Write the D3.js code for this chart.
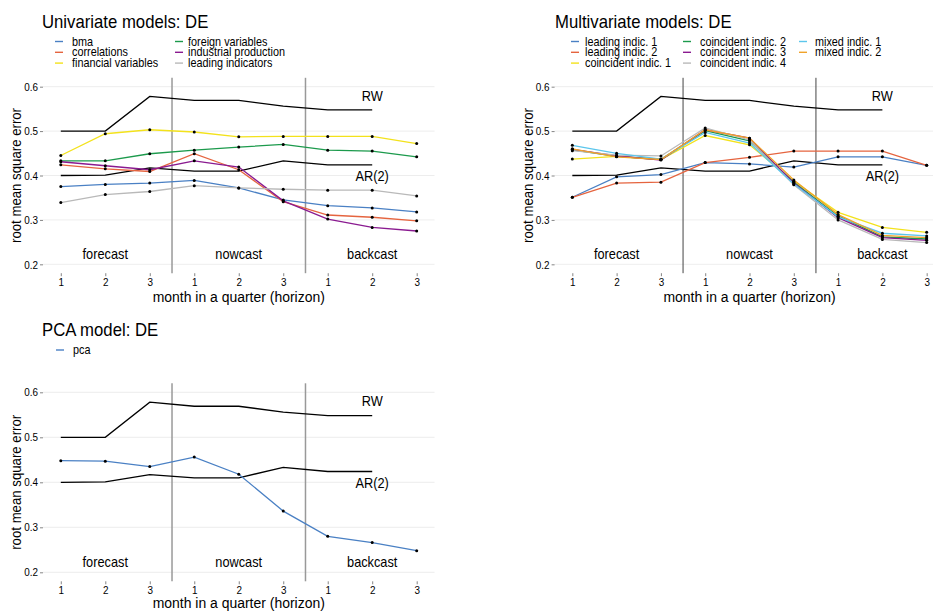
<!DOCTYPE html>
<html>
<head>
<meta charset="utf-8">
<script src="https://cdn.jsdelivr.net/npm/d3@7"></script>
<style>
  html, body { margin: 0; padding: 0; background: #fff; }
  svg { display: block; }
  text { font-family: "Liberation Sans", Arial, sans-serif; fill: #000; }
</style>
</head>
<body>
<svg id="chart" width="933" height="612"></svg>
<script>
// ---- data -------------------------------------------------------------
const horizon = [1, 2, 3, 4, 5, 6, 7, 8, 9];
const tickLabels = ["1", "2", "3", "1", "2", "3", "1", "2", "3"];
const yTicks = [0.2, 0.3, 0.4, 0.5, 0.6];
const phaseNames = ["forecast", "nowcast", "backcast"];
const phaseCenters = [2, 5, 8];
const phaseBreaks = [3.5, 6.5];

// benchmark models (defined for horizons 1..8)
const rw  = [0.500, 0.500, 0.578, 0.569, 0.569, 0.556, 0.548, 0.548];
const ar2 = [0.400, 0.401, 0.417, 0.410, 0.410, 0.433, 0.424, 0.424];

// univariate models
const uniNames = ["bma", "correlations", "financial variables", "foreign variables", "industrial production", "leading indicators"];
const bma         = [0.375, 0.380, 0.383, 0.389, 0.372, 0.345, 0.332, 0.327, 0.318];
const correlations = [0.424, 0.415, 0.409, 0.449, 0.413, 0.341, 0.311, 0.306, 0.298];
const financial   = [0.445, 0.494, 0.503, 0.498, 0.487, 0.488, 0.488, 0.488, 0.472];
const foreign     = [0.433, 0.433, 0.449, 0.457, 0.464, 0.470, 0.457, 0.455, 0.442];
const industrial  = [0.431, 0.422, 0.413, 0.433, 0.419, 0.343, 0.302, 0.283, 0.275];
const leadingInd  = [0.339, 0.357, 0.364, 0.377, 0.372, 0.369, 0.367, 0.367, 0.354];
const uniColors = ["#4a80c4", "#e5643f", "#f3e21c", "#1c9a4c", "#8a1a90", "#b9b9b9"];

// multivariate models
const multiNames = ["leading indic. 1", "leading indic. 2", "coincident indic. 1", "coincident indic. 2",
                    "coincident indic. 3", "coincident indic. 4", "mixed indic. 1", "mixed indic. 2"];
const leading1 = [0.351, 0.397, 0.402, 0.429, 0.426, 0.419, 0.442, 0.442, 0.423];
const leading2 = [0.351, 0.383, 0.385, 0.429, 0.441, 0.455, 0.455, 0.455, 0.423];
const coinc1   = [0.437, 0.443, 0.436, 0.490, 0.469, 0.387, 0.317, 0.283, 0.272];
const coinc2   = [0.458, 0.443, 0.436, 0.501, 0.478, 0.385, 0.309, 0.262, 0.257];
const coinc3   = [0.459, 0.444, 0.435, 0.503, 0.484, 0.383, 0.305, 0.260, 0.254];
const coinc4   = [0.456, 0.446, 0.444, 0.507, 0.480, 0.379, 0.300, 0.256, 0.249];
const mixed1   = [0.468, 0.450, 0.437, 0.497, 0.473, 0.381, 0.307, 0.270, 0.264];
const mixed2   = [0.460, 0.442, 0.436, 0.503, 0.484, 0.390, 0.312, 0.265, 0.260];
const multiColors = ["#4a80c4", "#e5643f", "#f3e21c", "#1c9a4c", "#8a1a90", "#b9b9b9", "#5bc6ec", "#f0a22a"];

// principal components model
const pcaNames = ["pca"];
const pca = [0.448, 0.447, 0.435, 0.456, 0.418, 0.336, 0.280, 0.266, 0.248];
const pcaColors = ["#4a80c4"];

// ---- drawing ----------------------------------------------------------
const svg = d3.select("#chart");

// narrow the glyph run of a label by factor k
function squeeze(sel, k) {
  sel.each(function () {
    const len = this.getComputedTextLength();
    if (len > 0) {
      d3.select(this).attr("textLength", len * k).attr("lengthAdjust", "spacingAndGlyphs");
    }
  });
  return sel;
}

function label(g, x, y, str, size, anchor, k) {
  const t = g.append("text").attr("x", x).attr("y", y)
    .attr("font-size", size).attr("text-anchor", anchor || "start").text(str);
  squeeze(t, k || 0.86);
  return t;
}

function drawPlot(opt) {
  const g = svg.append("g");
  const x = d3.scaleLinear().domain([0.6, 9.4]).range([opt.left, opt.right]);
  const y = d3.scaleLinear().domain([0.18, 0.62]).range([opt.bottom, opt.top]);

  // title and legend
  label(g, opt.titleX, opt.titleY, opt.title, 19, "start", 0.88);
  opt.names.forEach((name, i) => {
    const col = Math.floor(i / 3), row = i % 3;
    const ly = opt.legendY + row * 10.8;
    g.append("line")
      .attr("x1", opt.keyX[col]).attr("x2", opt.keyX[col] + 8)
      .attr("y1", ly).attr("y2", ly)
      .attr("stroke", opt.colors[i]).attr("stroke-width", 1.4);
    label(g, opt.textX[col], ly + 4, name, 12.6, "start", 0.86);
  });

  // horizontal grid
  g.append("g").selectAll("line").data(yTicks).join("line")
    .attr("x1", opt.left).attr("x2", opt.right)
    .attr("y1", d => y(d)).attr("y2", d => y(d))
    .attr("stroke", "#ebebeb").attr("stroke-width", 0.9);

  // axes
  const yAxis = g.append("g").attr("transform", `translate(${opt.left},0)`)
    .call(d3.axisLeft(y).tickValues(yTicks).tickFormat(d3.format(".1f")).tickSize(3).tickPadding(2));
  const xAxis = g.append("g").attr("transform", `translate(0,${opt.bottom})`)
    .call(d3.axisBottom(x).tickValues(horizon).tickFormat((d, i) => tickLabels[i]).tickSize(3).tickPadding(2));
  [yAxis, xAxis].forEach(a => {
    a.select(".domain").remove();
    a.selectAll(".tick line").attr("stroke", "#333").attr("stroke-width", 0.6);
    a.selectAll(".tick text").attr("font-size", 11.5).attr("fill", "#1a1a1a")
      .attr("font-family", "Liberation Sans, Arial, sans-serif");
    squeeze(a.selectAll(".tick text"), 0.86);
  });

  // axis titles
  label(g, (opt.left + opt.right) / 2, opt.xTitleY, "month in a quarter (horizon)", 15.5, "middle", 0.9);
  const yt = g.append("text")
    .attr("transform", `translate(${opt.yTitleX},${(opt.top + opt.bottom) / 2}) rotate(-90)`)
    .attr("font-size", 15).attr("text-anchor", "middle").text("root mean square error");
  squeeze(yt, 0.88);

  // phase separators
  g.append("g").selectAll("line").data(phaseBreaks).join("line")
    .attr("x1", d => x(d)).attr("x2", d => x(d))
    .attr("y1", opt.top).attr("y2", opt.bottom)
    .attr("stroke", opt.sepColor).attr("stroke-width", opt.sepWidth);

  // phase labels
  phaseNames.forEach((p, i) => label(g, x(phaseCenters[i]), y(0.222) + 4.5, p, 14.5, "middle", 0.88));

  const line = d3.line().x((d, i) => x(horizon[i])).y(d => y(d));

  // benchmarks
  [rw, ar2].forEach(s => {
    g.append("path").attr("d", line(s)).attr("fill", "none")
      .attr("stroke", "#000").attr("stroke-width", 1.3);
  });
  label(g, x(8), y(rw[7] + 0.032) + 5, "RW", 14.5, "middle", 0.88);
  label(g, x(8), y(ar2[7] - 0.026) + 5, "AR(2)", 14.5, "middle", 0.88);

  // model series
  opt.series.forEach((s, i) => {
    g.append("path").attr("d", line(s)).attr("fill", "none")
      .attr("stroke", opt.colors[i]).attr("stroke-width", 1.3);
  });
  opt.series.forEach(s => {
    g.append("g").selectAll("circle").data(s).join("circle")
      .attr("cx", (d, i) => x(horizon[i])).attr("cy", d => y(d))
      .attr("r", 1.5).attr("fill", "#000");
  });
}

drawPlot({
  title: "Univariate models: DE", titleX: 42, titleY: 28,
  names: uniNames, colors: uniColors,
  series: [bma, correlations, financial, foreign, industrial, leadingInd],
  legendY: 41.5, keyX: [55, 175], textX: [72, 188],
  left: 43, right: 434.5, top: 77.8, bottom: 273.2,
  xTitleY: 302, yTitleX: 21, sepColor: "#999", sepWidth: 1.5
});

drawPlot({
  title: "Multivariate models: DE", titleX: 555, titleY: 28,
  names: multiNames, colors: multiColors,
  series: [leading1, leading2, coinc1, coinc2, coinc3, coinc4, mixed1, mixed2],
  legendY: 41.5, keyX: [571, 683, 799], textX: [585, 700, 815],
  left: 554.6, right: 944.4, top: 77.8, bottom: 273.2,
  xTitleY: 302, yTitleX: 533, sepColor: "#444", sepWidth: 1
});

drawPlot({
  title: "PCA model: DE", titleX: 42, titleY: 336,
  names: pcaNames, colors: pcaColors,
  series: [pca],
  legendY: 350, keyX: [56], textX: [73],
  left: 43, right: 434.5, top: 383.3, bottom: 581.3,
  xTitleY: 608, yTitleX: 21, sepColor: "#999", sepWidth: 1.5
});
</script>
</body>
</html>
